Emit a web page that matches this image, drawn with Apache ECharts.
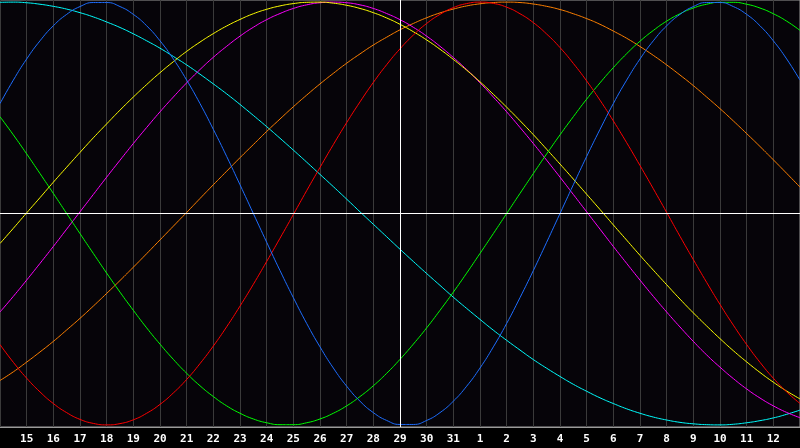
<!DOCTYPE html>
<html>
<head>
<meta charset="utf-8">
<script src="https://cdn.jsdelivr.net/npm/echarts@6/dist/echarts.min.js"></script>
<style>
html,body{margin:0;padding:0;background:#000;}
#c{width:800px;height:448px;}
</style>
</head>
<body>
<div id="c"></div>
<script>
// Day tick labels, one per grid line (first and last sit on the plot edges and are not shown)
const days = ['14','15','16','17','18','19','20','21','22','23','24','25','26','27','28','29','30','31',
  '1','2','3','4','5','6','7','8','9','10','11','12','13'];

const physical = [52.0,63.1,73.1,81.7,88.8,94.2,97.9,99.8,99.8,97.9,94.2,88.8,81.7,73.1,63.1,52.0,39.8,27.0,13.6,0,-13.6,-27.0,-39.8,-52.0,-63.1,-73.1,-81.7,-88.8,-94.2,-97.9,-99.8,-99.8,-97.9,-94.2,-88.8,-81.7,-73.1,-63.1,-52.0,-39.8,-27.0,-13.6,0,13.6,27.0,39.8,52.0,63.1,73.1,81.7,88.8,94.2,97.9,99.8,99.8,97.9,94.2,88.8,81.7,73.1,63.1];
const emotional = [-62.0,-70.4,-77.9,-84.4,-89.9,-94.2,-97.4,-99.3,-100,-99.4,-97.6,-94.5,-90.3,-84.9,-78.5,-71.0,-62.7,-53.6,-43.8,-33.5,-22.7,-11.7,-0.5,10.8,21.8,32.6,43.0,52.8,62.0,70.4,77.9,84.4,89.9,94.2,97.4,99.3,100,99.4,97.6,94.5,90.3,84.9,78.5,71.0,62.7,53.6,43.8,33.5,22.7,11.7,0.5,-10.8,-21.8,-32.6,-43.0,-52.8,-62.0,-70.4,-77.9,-84.4,-89.9];
const intellectual = [45.8,37.2,28.2,18.9,9.5,0,-9.5,-18.9,-28.2,-37.2,-45.8,-54.1,-61.8,-69.0,-75.6,-81.5,-86.6,-91.0,-94.5,-97.2,-99.0,-99.9,-99.9,-99.0,-97.2,-94.5,-91.0,-86.6,-81.5,-75.6,-69.0,-61.8,-54.1,-45.8,-37.2,-28.2,-18.9,-9.5,0,9.5,18.9,28.2,37.2,45.8,54.1,61.8,69.0,75.6,81.5,86.6,91.0,94.5,97.2,99.0,99.9,99.9,99.0,97.2,94.5,91.0,86.6];
const spiritual = [99.9,100,99.7,99.0,98.0,96.7,95.0,93.0,90.6,88.0,85.0,81.7,78.2,74.3,70.3,65.9,61.3,56.6,51.6,46.4,41.1,35.6,30.0,24.3,18.5,12.7,6.8,0.8,-5.1,-11.0,-16.9,-22.7,-28.4,-34.0,-39.6,-44.9,-50.1,-55.2,-60.0,-64.6,-69.1,-73.2,-77.1,-80.8,-84.1,-87.2,-89.9,-92.4,-94.5,-96.3,-97.7,-98.8,-99.5,-99.9,-100,-99.7,-99.0,-98.0,-96.7,-95.0,-93.0];
const aesthetic = [-14.2,-7.0,0.3,7.5,14.8,21.9,28.9,35.8,42.4,48.9,55.1,61.0,66.6,71.8,76.7,81.1,85.1,88.7,91.8,94.5,96.6,98.2,99.3,99.9,100,99.5,98.5,97.0,95.0,92.5,89.5,86.0,82.1,77.7,72.9,67.8,62.3,56.4,50.3,43.9,37.3,30.4,23.4,16.3,9.1,1.9,-5.4,-12.6,-19.8,-26.8,-33.7,-40.5,-47.0,-53.2,-59.2,-64.9,-70.2,-75.2,-79.8,-84.0,-87.7];
const intuitive = [-46.6,-39.2,-31.5,-23.6,-15.6,-7.4,0.8,9.0,17.2,25.2,33.1,40.7,48.1,55.1,61.8,68.1,73.9,79.1,83.9,88.1,91.7,94.6,97.0,98.7,99.7,100,99.7,98.7,97.0,94.6,91.7,88.1,83.9,79.1,73.8,68.1,61.8,55.1,48.1,40.7,33.1,25.2,17.2,9.0,0.8,-7.4,-15.6,-23.6,-31.5,-39.2,-46.6,-53.7,-60.5,-66.9,-72.7,-78.1,-83.0,-87.3,-91.0,-94.1,-96.6];
const awareness = [-79.0,-74.9,-70.3,-65.5,-60.5,-55.1,-49.6,-43.8,-37.8,-31.7,-25.4,-19.0,-12.5,-6.0,0.5,7.1,13.6,20.0,26.4,32.6,38.8,44.7,50.5,56.0,61.3,66.3,71.1,75.5,79.7,83.4,86.9,89.9,92.6,94.9,96.7,98.2,99.2,99.8,100,99.8,99.1,98.0,96.5,94.5,92.2,89.5,86.3,82.9,79.0,74.8,70.3,65.5,60.5,55.1,49.6,43.8,37.8,31.7,25.4,19.0,12.5];

const samplesPerDay = 2;
const todayIndex = days.indexOf('29');

const toPoints = arr => arr.map((v, k) => [k / samplesPerDay, v]);

const mk = (name, data, color) => ({
  name, type: 'line', data: toPoints(data), smooth: true, symbol: 'none', z: 3,
  lineStyle: {color, width: 1}, itemStyle: {color}, silent: true, animation: false
});

const chart = echarts.init(document.getElementById('c'), null, {renderer: 'canvas'});
chart.setOption({
  animation: false,
  backgroundColor: '#000000',
  grid: {left: 0, right: 0, top: 0, bottom: 21, containLabel: false, outerBoundsMode: 'none',
         show: true, backgroundColor: '#060409', borderColor: '#9a9a9a', borderWidth: 1},
  xAxis: {
    type: 'value', min: 0, max: days.length - 1, interval: 1,
    axisLine: {show: true, onZero: false, lineStyle: {color: '#9a9a9a', width: 1}},
    axisTick: {show: false},
    axisLabel: {show: true, color: '#ffffff', fontFamily: 'DejaVu Sans Mono', fontWeight: 'bold',
      fontSize: 11, margin: 7,
      formatter: v => (v <= 0 || v >= days.length - 1) ? '' : days[Math.round(v)]},
    splitLine: {show: true, lineStyle: {color: '#3a3a3a', width: 1}}
  },
  yAxis: {
    type: 'value', min: -101, max: 101,
    axisLine: {show: false}, axisTick: {show: false}, axisLabel: {show: false},
    splitLine: {show: false}
  },
  series: [
    {
      type: 'line', data: [], z: 1, silent: true,
      markLine: {
        silent: true, symbol: 'none', animation: false,
        label: {show: false},
        lineStyle: {color: '#ffffff', width: 1, type: 'solid'},
        data: [{xAxis: todayIndex}, {yAxis: 0}]
      }
    },
    mk('Spiritual', spiritual, '#00ffff'),
    mk('Awareness', awareness, '#ff8000'),
    mk('Intuitive', intuitive, '#ff00ff'),
    mk('Aesthetic', aesthetic, '#ffff00'),
    mk('Intellectual', intellectual, '#00ff00'),
    mk('Emotional', emotional, '#ff0000'),
    mk('Physical', physical, '#1e6eff')
  ]
});
</script>
</body>
</html>
